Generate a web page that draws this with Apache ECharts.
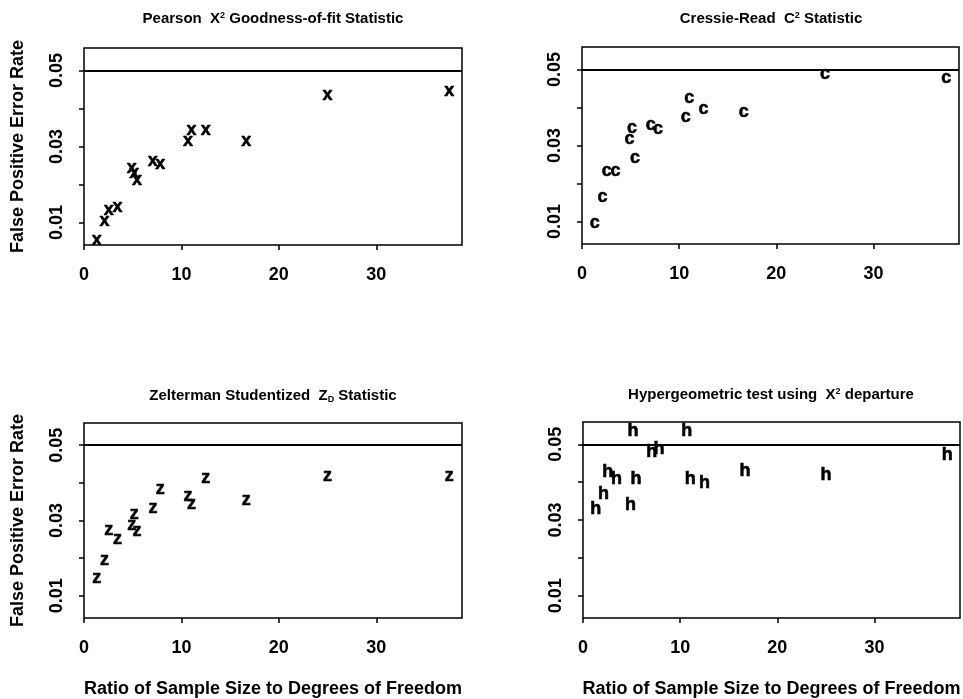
<!DOCTYPE html>
<html>
<head>
<meta charset="utf-8">
<script src="https://cdn.jsdelivr.net/npm/echarts@6/dist/echarts.min.js"></script>
<style>
    html, body { margin: 0; padding: 0; background: #fff; }
    #chart { width: 963px; height: 699px; }
</style>
</head>
<body>
<div id="chart"></div>
<script>
// Data
// ------------------------------

// ratio of sample size to degrees of freedom (same designs in every panel)
var ratio = [1.32, 2.1, 2.55, 3.45, 4.9, 5.15, 5.45, 7.07, 7.83, 10.67, 11.04, 12.5, 16.66, 25.0, 37.5];

// false positive error rate per statistic
var pearson   = [0.0053, 0.0103, 0.0133, 0.0142, 0.0243, 0.0230, 0.0213, 0.0263, 0.0253, 0.0314, 0.0344, 0.0344, 0.0314, 0.0436, 0.0446];
var cressie   = [0.0095, 0.0165, 0.0233, 0.0233, 0.0316, 0.0345, 0.0266, 0.0354, 0.0343, 0.0376, 0.0426, 0.0396, 0.0387, 0.0489, 0.0477];
var zelterman = [0.0146, 0.0195, 0.0274, 0.0252, 0.0289, 0.0317, 0.0272, 0.0333, 0.0383, 0.0366, 0.0343, 0.0414, 0.0355, 0.0417, 0.0417];
var hyper     = [0.0329, 0.0368, 0.0427, 0.0408, 0.0340, 0.0535, 0.0408, 0.0480, 0.0487, 0.0535, 0.0408, 0.0397, 0.0430, 0.0419, 0.0471];

var xTicks = [0, 10, 20, 30];
var yTicks = [0.01, 0.02, 0.03, 0.04, 0.05];
var yTickLabels = [0.01, 0.03, 0.05];
var nominalRate = 0.05;

var markers = ['x', 'c', 'z', 'h'];
var panelTitles = [
    'Pearson  X{sup|2} Goodness-of-fit Statistic',
    'Cressie-Read  C{sup|2} Statistic',
    'Zelterman Studentized  Z{sub|D} Statistic',
    'Hypergeometric test using  X{sup|2} departure'
];
var yTitle = 'False Positive Error Rate';
var xTitle = 'Ratio of Sample Size to Degrees of Freedom';


// Chart
// ------------------------------

var fontFamily = '"Liberation Sans", Arial, Helvetica, sans-serif';
var panelData = [pearson, cressie, zelterman, hyper];

var grids = [
    { left: 84,  top: 48,  width: 378, height: 197 },
    { left: 582, top: 47,  width: 377, height: 197 },
    { left: 84,  top: 423, width: 378, height: 197 },
    { left: 583, top: 422, width: 377, height: 197 }
];
var titlePos = [[273, 11], [771, 11], [273, 388], [771, 387]];

var chart = echarts.init(document.getElementById('chart'));

var option = {
    animation: false,
    textStyle: { fontFamily: fontFamily, color: '#000' },
    title: [],
    grid: [],
    xAxis: [],
    yAxis: [],
    series: []
};

for (var i = 0; i < 4; i++) {
    option.grid.push(Object.assign({
        show: true,
        borderColor: '#000',
        borderWidth: 1.5,
        backgroundColor: 'transparent'
    }, grids[i]));

    option.title.push({
        text: panelTitles[i],
        left: titlePos[i][0],
        top: titlePos[i][1],
        textAlign: 'center',
        padding: 0,
        textStyle: {
            fontFamily: fontFamily,
            fontSize: 15,
            fontWeight: 'bold',
            color: '#000',
            lineHeight: 16,
            rich: {
                sup: { fontSize: 9, fontWeight: 'bold', fontFamily: fontFamily, verticalAlign: 'top', lineHeight: 9 },
                sub: { fontSize: 9, fontWeight: 'bold', fontFamily: fontFamily, verticalAlign: 'bottom', lineHeight: 4 }
            }
        }
    });

    option.xAxis.push({
        type: 'value',
        gridIndex: i,
        min: 0,
        max: 38.8,
        name: i >= 2 ? xTitle : '',
        nameLocation: 'middle',
        nameGap: 62,
        nameTextStyle: { fontSize: 18, fontWeight: 'bold', color: '#000', fontFamily: fontFamily },
        axisLine: { show: false, onZero: false },
        axisTick: { show: true, length: 5, customValues: xTicks, lineStyle: { color: '#000', width: 1.5 } },
        axisLabel: { customValues: xTicks, margin: 21, fontSize: 18, fontWeight: 'bold', color: '#000', fontFamily: fontFamily },
        splitLine: { show: false }
    });

    option.yAxis.push({
        type: 'value',
        gridIndex: i,
        min: 0.0041,
        max: 0.0559,
        name: (i % 2 === 0) ? yTitle : '',
        nameLocation: 'middle',
        nameRotate: 90,
        nameGap: 57,
        nameTextStyle: { fontSize: 18, fontWeight: 'bold', color: '#000', fontFamily: fontFamily },
        axisLine: { show: false },
        axisTick: { show: true, length: 5, customValues: yTicks, lineStyle: { color: '#000', width: 1.5 } },
        axisLabel: {
            customValues: yTickLabels,
            rotate: 90,
            margin: 18,
            fontSize: 18,
            fontWeight: 'bold',
            color: '#000',
            fontFamily: fontFamily,
            formatter: function(v) { return v.toFixed(2); }
        },
        splitLine: { show: false }
    });

    var pts = [];
    for (var j = 0; j < ratio.length; j++) {
        pts.push([ratio[j], panelData[i][j]]);
    }

    // points drawn as letters, like R's pch = "x"
    option.series.push({
        type: 'scatter',
        xAxisIndex: i,
        yAxisIndex: i,
        data: pts,
        symbol: 'circle',
        symbolSize: 0.5,
        itemStyle: { color: '#000', opacity: 1 },
        emphasis: { disabled: true },
        label: {
            show: true,
            position: 'inside',
            formatter: markers[i],
            color: '#000',
            opacity: 1,
            fontSize: 18,
            fontWeight: 'bold',
            fontFamily: fontFamily,
            textBorderColor: '#000',
            textBorderWidth: 0.6
        },
        markLine: {
            silent: true,
            symbol: ['none', 'none'],
            label: { show: false },
            lineStyle: { color: '#000', width: 2, type: 'solid' },
            data: [{ yAxis: nominalRate }]
        }
    });
}

chart.setOption(option);
</script>
</body>
</html>
